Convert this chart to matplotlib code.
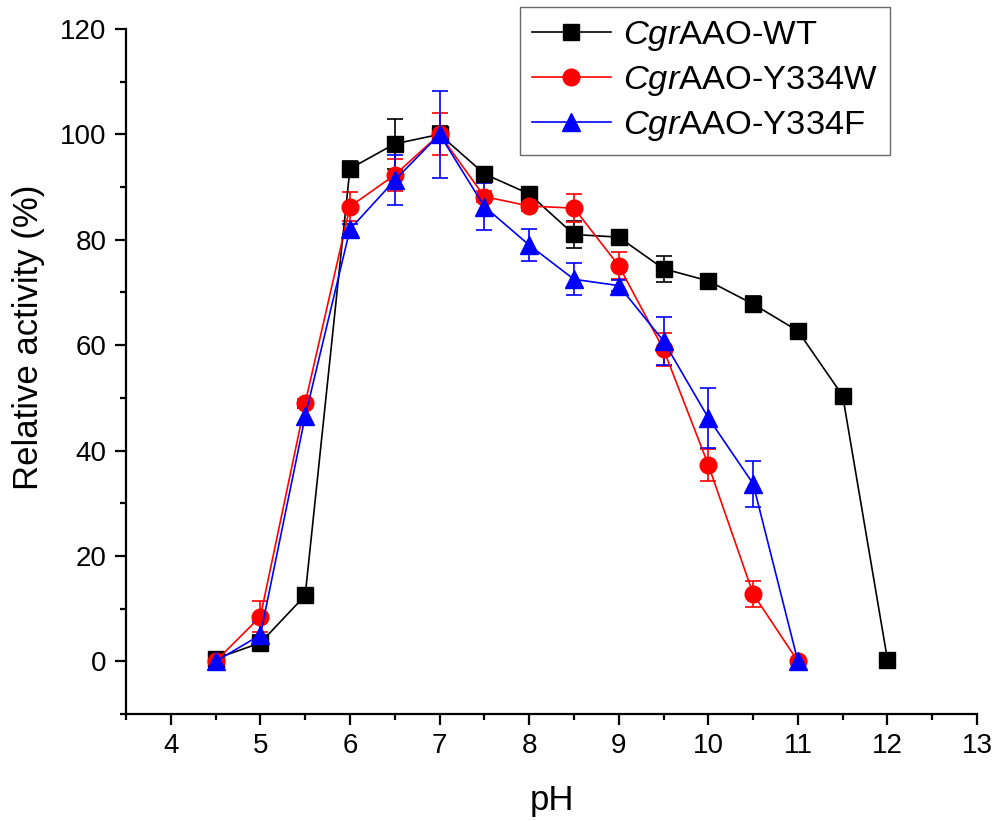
import numpy as np
import matplotlib
matplotlib.use("Agg")
import matplotlib.pyplot as plt
from matplotlib.ticker import MultipleLocator

plt.rcParams['font.family'] = ['Liberation Sans', 'DejaVu Sans']
plt.rcParams['mathtext.fontset'] = 'custom'
plt.rcParams['mathtext.it'] = 'Liberation Sans:italic'
plt.rcParams['mathtext.rm'] = 'Liberation Sans'

# pH values
ph_wt = [4.5, 5.0, 5.5, 6.0, 6.5, 7.0, 7.5, 8.0, 8.5, 9.0, 9.5, 10.0, 10.5, 11.0, 11.5, 12.0]
ph_mut = [4.5, 5.0, 5.5, 6.0, 6.5, 7.0, 7.5, 8.0, 8.5, 9.0, 9.5, 10.0, 10.5, 11.0]

# relative activity (%) and error
wt = [0.5, 3.5, 12.5, 93.5, 98.2, 100.0, 92.5, 88.7, 81.0, 80.5, 74.5, 72.2, 67.8, 62.7, 50.4, 0.3]
wt_err = [0.5, 1.5, 0.5, 1.5, 4.7, 1.5, 0.8, 0.8, 2.5, 0.5, 2.5, 0.8, 1.5, 0.5, 0.5, 0.3]

y334w = [0.0, 8.5, 49.0, 86.3, 92.3, 100.0, 88.2, 86.4, 86.0, 75.1, 59.2, 37.3, 12.8, 0.0]
y334w_err = [0.3, 3.0, 0.8, 2.8, 3.0, 4.0, 1.0, 1.0, 2.7, 2.5, 3.2, 3.0, 2.5, 0.3]

y334f = [0.0, 5.0, 46.5, 82.0, 91.3, 100.0, 86.3, 79.0, 72.5, 71.3, 60.8, 46.2, 33.7, 0.0]
y334f_err = [0.3, 2.5, 1.5, 1.0, 4.7, 8.3, 4.5, 3.0, 3.0, 1.0, 4.5, 5.7, 4.4, 0.3]

labels = [r'$\mathit{Cgr}$AAO-WT', r'$\mathit{Cgr}$AAO-Y334W', r'$\mathit{Cgr}$AAO-Y334F']

fig = plt.figure(figsize=(9.97, 8.21), dpi=100)
ax = fig.add_axes([0.1264, 0.1303, 0.8536, 0.8344])

series = [
    (ph_wt, wt, wt_err, 'black', 's', 11),
    (ph_mut, y334w, y334w_err, 'red', 'o', 12),
    (ph_mut, y334f, y334f_err, 'blue', '^', 13),
]
handles = []
for x, y, e, c, m, ms in series:
    cont = ax.errorbar(x, y, yerr=e, color=c, marker=m, markersize=ms, linewidth=1.2,
                       elinewidth=1.2, capsize=6, capthick=1.2)
    handles.append(cont[0])

ax.set_xlim(3.5, 13)
ax.set_ylim(-10, 120)
ax.xaxis.set_minor_locator(MultipleLocator(0.5))
ax.yaxis.set_minor_locator(MultipleLocator(10))
ax.set_xticks(np.arange(4, 14, 1))
ax.set_yticks(np.arange(0, 121, 20))

for side in ['top', 'right']:
    ax.spines[side].set_visible(False)
for side in ['left', 'bottom']:
    ax.spines[side].set_linewidth(1.6)

ax.tick_params(which='major', direction='out', length=8, width=1.6, labelsize=20, pad=6)
ax.tick_params(which='minor', direction='out', length=4.5, width=1.6)

ax.set_xlabel('pH', fontsize=25, labelpad=18)
ax.set_ylabel('Relative activity (%)', fontsize=25)
ax.yaxis.set_label_coords(-0.095, 0.55)

leg = ax.legend(handles, labels, loc='upper right', bbox_to_anchor=(0.8927, 0.9915),
                bbox_transform=fig.transFigure, fontsize=24.8, frameon=True,
                fancybox=False, edgecolor='#444444', handlelength=2.3,
                borderpad=0.35, labelspacing=0.32, handletextpad=0.35, borderaxespad=0)
leg.get_frame().set_linewidth(1.0)

fig.savefig('out.png', dpi=100)
